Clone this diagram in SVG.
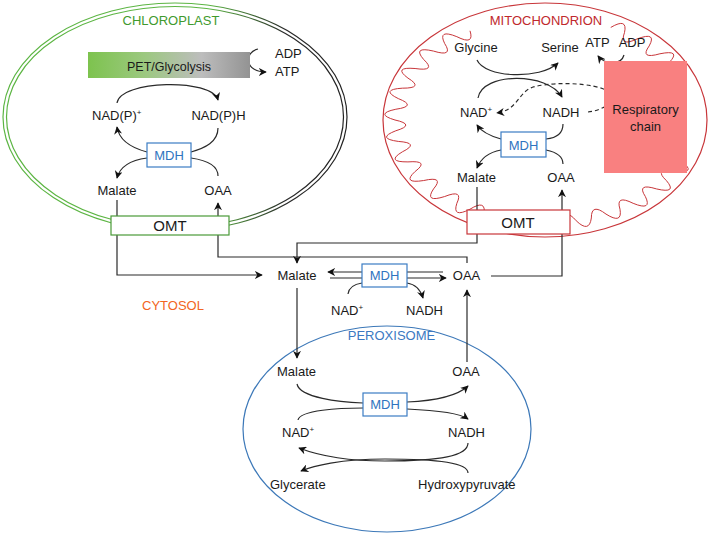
<svg xmlns="http://www.w3.org/2000/svg" width="709" height="536" viewBox="0 0 709 536">
<style>
text{font-family:"Liberation Sans",Arial,sans-serif;font-size:13px;fill:#1a1a1a}
.c{text-anchor:middle}
.ln{fill:none;stroke:#2a2a2a;stroke-width:1.2}
.ar{marker-end:url(#ah)}
.dash{stroke-dasharray:4 3}
.mdh rect{fill:#fff;stroke:#3b7cc4;stroke-width:1.2}
.mdh text{fill:#2f74c0;text-anchor:middle}
.omt text{font-size:15px;text-anchor:middle}
.sup{font-size:8px}
.wave{fill:none;stroke:#c8363a;stroke-width:1}
</style>
<defs>
<marker id="ah" viewBox="0 0 10 10" refX="9" refY="5" markerWidth="8" markerHeight="8" markerUnits="userSpaceOnUse" orient="auto"><path d="M0,0 L10,5 L0,10 L3,5 z" fill="#111"/></marker>
<linearGradient id="cg" gradientUnits="userSpaceOnUse" x1="3" y1="0" x2="347" y2="0">
<stop offset="0" stop-color="#5cb543"/><stop offset="0.6" stop-color="#5cb543"/><stop offset="0.82" stop-color="#2a2a2a"/><stop offset="1" stop-color="#222"/>
</linearGradient>
<linearGradient id="pg" x1="0" y1="0" x2="1" y2="0">
<stop offset="0" stop-color="#7dc34e"/><stop offset="0.35" stop-color="#9cc880"/><stop offset="0.7" stop-color="#bdbdbd"/><stop offset="1" stop-color="#939393"/>
</linearGradient>
<path id="w" class="wave" vector-effect="non-scaling-stroke" d="M100,0 Q113.84,5.97 99.45,10.45 Q84.94,13.45 97.81,20.79"/>
</defs>

<g id="chloroplast">
<ellipse cx="175" cy="117" rx="172" ry="114" fill="none" stroke="url(#cg)" stroke-width="1.2"/>
<ellipse cx="175" cy="117" rx="168.5" ry="110.5" fill="none" stroke="url(#cg)" stroke-width="1.2"/>
<text x="171" y="25" class="c" style="fill:#3f9a2e">CHLOROPLAST</text>
</g>

<g id="mitochondrion">
<ellipse cx="545" cy="120" rx="162" ry="117" fill="none" stroke="#c8363a" stroke-width="1.2"/>
<g transform="translate(545,120) scale(1.5,1.03)">
<use href="#w" transform="rotate(108)"/><use href="#w" transform="rotate(120)"/><use href="#w" transform="rotate(132)"/><use href="#w" transform="rotate(144)"/><use href="#w" transform="rotate(156)"/><use href="#w" transform="rotate(168)"/><use href="#w" transform="rotate(180)"/><use href="#w" transform="rotate(192)"/><use href="#w" transform="rotate(204)"/><use href="#w" transform="rotate(216)"/><use href="#w" transform="rotate(228)"/>
<use href="#w" transform="rotate(296)"/><use href="#w" transform="rotate(308)"/><use href="#w" transform="rotate(320)"/>
<use href="#w" transform="rotate(24)"/><use href="#w" transform="rotate(36)"/><use href="#w" transform="rotate(48)"/><use href="#w" transform="rotate(60)"/><use href="#w" transform="rotate(72)"/>
</g>
<text x="546" y="25" class="c" style="fill:#c0282d">MITOCHONDRION</text>
</g>

<g id="peroxisome">
<ellipse cx="387" cy="429" rx="144" ry="103" fill="none" stroke="#3c78b8" stroke-width="1.2"/>
<text x="391.5" y="340" class="c" style="fill:#3a78c2">PEROXISOME</text>
</g>

<g id="cytosol"><text x="173" y="310" class="c" style="fill:#f26522">CYTOSOL</text></g>

<g id="connectors">
<!-- chloroplast -->
<path class="ln ar" d="M258 49 C244 52,244 72,266 72"/>
<path class="ln ar" d="M117 103 C120 80,212 78,218 100"/>
<path class="ln" d="M218 128 C218 142,205 148,191 152"/>
<path class="ln ar" d="M147 152 C132 148,119 140,117 127"/>
<path class="ln ar" d="M147 158 C132 160,120 166,117 178"/>
<path class="ln" d="M218 176 C218 165,205 160,191 158"/>
<!-- mitochondrion -->
<path class="ln ar" d="M477 60 C485 78,540 80,558 63"/>
<path class="ln ar" d="M478 98 C482 72,548 72,562 97"/>
<path class="ln" d="M563 124 C563 134,556 138,546 139"/>
<path class="ln ar" d="M501 139 C490 136,481 131,477 125"/>
<path class="ln ar" d="M501 150 C490 152,481 158,477 168"/>
<path class="ln" d="M563 164 C563 156,556 152,546 150"/>
<path class="ln ar" d="M624 55 C621 66,604 64,598 56"/>
<path class="ln ar dash" d="M588 112 C600 111,612 104,612 97 C612 84,560 80,533 87 C518 92,518 110,497 113"/>
<!-- transport -->
<path class="ln ar" d="M117 200 L117 275 L262 275"/>
<path class="ln ar" d="M467 263 L467 257 L218 257 L218 203"/>
<path class="ln ar" d="M477 187 L477 243 L297 243 L297 263"/>
<path class="ln ar" d="M491 276 L562 276 L562 190"/>
<path class="ln ar" d="M297 288 L297 358"/>
<path class="ln ar" d="M467 362 L467 290"/>
<!-- cytosol MDH -->
<path class="ln ar" d="M443 272 L328 272"/>
<path class="ln ar" d="M330 278 L446 278"/>
<path class="ln" d="M348 294 C349 287,355 284,362 283"/>
<path class="ln ar" d="M407 283 C414 284,420 288,423 298"/>
<!-- peroxisome -->
<path class="ln" d="M297 384 C300 398,340 402,363 403"/>
<path class="ln ar" d="M407 402 C430 401,455 398,468 386"/>
<path class="ln" d="M298 420 C300 410,340 408,363 408"/>
<path class="ln ar" d="M407 409 C430 410,458 412,468 419"/>
<path class="ln ar" d="M468 443 C468 456,440 461,385 461 C340 461,312 453,299 448"/>
<path class="ln ar" d="M468 473 C468 463,440 459,385 459 C340 459,313 466,301 471"/>
</g>

<g id="pet"><rect x="88" y="52" width="162" height="26" fill="url(#pg)"/><text x="169" y="71" class="c" style="font-size:12.5px">PET/Glycolysis</text></g>
<g id="c-adp"><text x="275" y="58">ADP</text></g>
<g id="c-atp"><text x="275" y="76">ATP</text></g>
<g id="c-nadp"><text x="92" y="120">NAD(P)<tspan class="sup" dy="-5">+</tspan></text></g>
<g id="c-nadph"><text x="218.5" y="120" class="c">NAD(P)H</text></g>
<g id="c-mdh" class="mdh"><rect x="147" y="143" width="44" height="24"/><text x="169" y="160">MDH</text></g>
<g id="c-malate"><text x="117" y="195" class="c">Malate</text></g>
<g id="c-oaa"><text x="218" y="195" class="c">OAA</text></g>
<g id="c-omt" class="omt"><rect x="111" y="216" width="118" height="19" fill="#fff" stroke="#4a9a38" stroke-width="1.2"/><text x="170" y="231">OMT</text></g>

<g id="m-glycine"><text x="476" y="52" class="c">Glycine</text></g>
<g id="m-serine"><text x="560" y="52" class="c">Serine</text></g>
<g id="m-atp"><text x="597.5" y="47" class="c">ATP</text></g>
<g id="m-adp"><text x="632" y="47" class="c">ADP</text></g>
<g id="m-resp"><rect x="604" y="61" width="83" height="112" fill="#f98080"/><text x="645.5" y="114" class="c">Respiratory</text><text x="645.5" y="131" class="c">chain</text></g>
<g id="m-nad"><text x="460" y="117">NAD<tspan class="sup" dy="-5">+</tspan></text></g>
<g id="m-nadh"><text x="561" y="117" class="c">NADH</text></g>
<g id="m-mdh" class="mdh"><rect x="501" y="132" width="45" height="25"/><text x="523.5" y="149.5">MDH</text></g>
<g id="m-malate"><text x="476.5" y="182" class="c">Malate</text></g>
<g id="m-oaa"><text x="561" y="182" class="c">OAA</text></g>
<g id="m-omt" class="omt"><rect x="467" y="210" width="103" height="24" fill="#fff" stroke="#c8363a" stroke-width="1.2"/><text x="518" y="227.5">OMT</text></g>

<g id="cy-malate"><text x="297" y="280" class="c">Malate</text></g>
<g id="cy-oaa"><text x="466.5" y="280" class="c">OAA</text></g>
<g id="cy-mdh" class="mdh"><rect x="362" y="264" width="45" height="23"/><text x="384.5" y="280">MDH</text></g>
<g id="cy-nad"><text x="331" y="315">NAD<tspan class="sup" dy="-5">+</tspan></text></g>
<g id="cy-nadh"><text x="424.5" y="315" class="c">NADH</text></g>

<g id="p-malate"><text x="296.5" y="376" class="c">Malate</text></g>
<g id="p-oaa"><text x="466" y="376" class="c">OAA</text></g>
<g id="p-mdh" class="mdh"><rect x="363" y="393" width="44" height="23"/><text x="385" y="409">MDH</text></g>
<g id="p-nad"><text x="282" y="437">NAD<tspan class="sup" dy="-5">+</tspan></text></g>
<g id="p-nadh"><text x="466.5" y="437" class="c">NADH</text></g>
<g id="p-glycerate"><text x="270" y="489">Glycerate</text></g>
<g id="p-hydroxypyruvate"><text x="418" y="489">Hydroxypyruvate</text></g>
</svg>
